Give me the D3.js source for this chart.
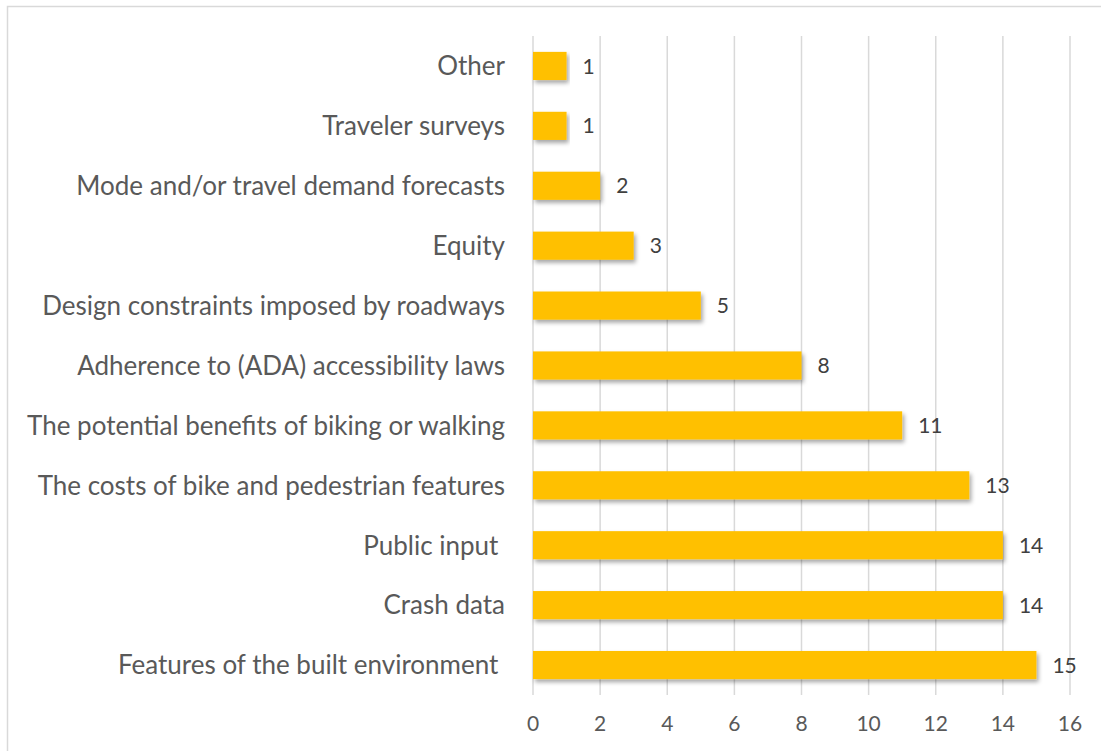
<!DOCTYPE html>
<html>
<head>
<meta charset="utf-8">
<script src="https://cdn.jsdelivr.net/npm/d3@7"></script>
<style>
  body { margin: 0; background: #fff; }
  svg { display: block; font-family: Lato, 'Open Sans', sans-serif; }
  .cat text { white-space: pre; }
</style>
</head>
<body>
<div id="chart"></div>
<script>
// categories top to bottom, as shown
const categories = [
  'Other',
  'Traveler surveys',
  'Mode and/or travel demand forecasts',
  'Equity',
  'Design constraints imposed by roadways',
  'Adherence to (ADA) accessibility laws',
  'The potential benefits of biking or walking',
  'The costs of bike and pedestrian features',
  'Public input ',
  'Crash data',
  'Features of the built environment '
]
const values = [1, 1, 2, 3, 5, 8, 11, 13, 14, 14, 15]
const xTicks = [0, 2, 4, 6, 8, 10, 12, 14, 16]

const width = 1101
const height = 751
const margin = { top: 36, right: 31, bottom: 56, left: 533 }

const data = categories.map((c, i) => ({ cat: c, value: values[i] }))

const svg = d3.select('#chart')
  .append('svg')
  .attr('width', width)
  .attr('height', height)

const defs = svg.append('defs')
defs.append('filter')
  .attr('id', 'shadow')
  .attr('x', '-5%').attr('y', '-30%')
  .attr('width', '115%').attr('height', '180%')
  .append('feDropShadow')
  .attr('dx', 2).attr('dy', 3)
  .attr('stdDeviation', 2)
  .attr('flood-color', '#000')
  .attr('flood-opacity', 0.35)

// chart area border
svg.append('rect')
  .attr('x', 7.5).attr('y', 6.5)
  .attr('width', width + 10).attr('height', height + 10)
  .attr('fill', 'none')
  .attr('stroke', '#d9d9d9')
  .attr('stroke-width', 1.5)

const x = d3.scaleLinear()
  .domain([0, 16])
  .range([margin.left, width - margin.right])

const y = d3.scaleBand()
  .domain(categories)
  .range([margin.top, height - margin.bottom])
  .paddingInner(0.53)
  .paddingOuter(0.265)

// gridlines
svg.append('g')
  .selectAll('line')
  .data(xTicks)
  .join('line')
  .attr('x1', d => x(d)).attr('x2', d => x(d))
  .attr('y1', margin.top).attr('y2', height - margin.bottom)
  .attr('stroke', '#d9d9d9')
  .attr('stroke-width', 1.5)

// x tick labels
svg.append('g')
  .selectAll('text')
  .data(xTicks)
  .join('text')
  .attr('x', d => x(d))
  .attr('y', 731)
  .attr('text-anchor', 'middle')
  .attr('fill', '#595959')
  .attr('font-size', 21)
  .text(d => d)

// bars
svg.append('g')
  .selectAll('rect')
  .data(data)
  .join('rect')
  .attr('x', x(0))
  .attr('y', d => y(d.cat))
  .attr('width', d => x(d.value) - x(0))
  .attr('height', y.bandwidth())
  .attr('fill', '#ffc000')
  .attr('filter', 'url(#shadow)')

// value labels
svg.append('g')
  .selectAll('text')
  .data(data)
  .join('text')
  .attr('x', d => x(d.value) + 16)
  .attr('y', d => y(d.cat) + y.bandwidth() / 2)
  .attr('dy', '0.36em')
  .attr('fill', '#404040')
  .attr('font-size', 21)
  .text(d => d.value)

// category labels
svg.append('g')
  .attr('class', 'cat')
  .selectAll('text')
  .data(data)
  .join('text')
  .attr('x', 505)
  .attr('y', d => y(d.cat) + y.bandwidth() / 2)
  .attr('dy', '0.36em')
  .attr('text-anchor', 'end')
  .attr('fill', '#595959')
  .attr('font-size', 26)
  .text(d => d.cat)
</script>
</body>
</html>
